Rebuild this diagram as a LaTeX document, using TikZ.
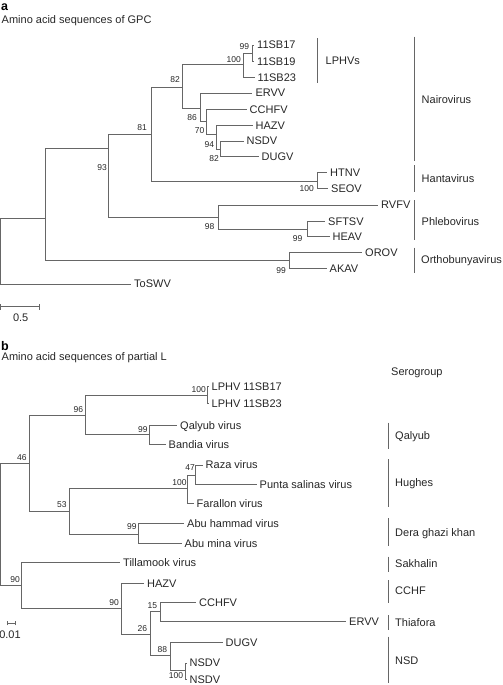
\documentclass[tikz,border=0pt]{standalone}
\usepackage{fontspec}
\setmainfont{Liberation Sans}
\usetikzlibrary{positioning}

\begin{document}
\begin{tikzpicture}[
    x=1pt, y=-1pt,
    branch/.style={draw=black!60, line width=0.6pt},
    leaf/.style={anchor=west, inner xsep=3pt, inner ysep=0pt, text height=7.9pt, text depth=0pt, text=black!85, font=\fontsize{11}{13}\selectfont},
    boot/.style={anchor=east, inner sep=0pt, text=black!85, font=\fontsize{8.5}{10}\selectfont},
    clade/.style={anchor=west, inner sep=0pt, text height=7.9pt, text depth=0pt, text=black!85, font=\fontsize{11}{13}\selectfont},
    panel/.style={anchor=base west, inner sep=0pt, font=\fontsize{12.5}{14}\selectfont\bfseries},
    heading/.style={anchor=west, inner sep=0pt, text=black!85, font=\fontsize{11}{13}\selectfont}
]
    \useasboundingbox (0,0) rectangle (503,685);

    % a: GPC
    \begin{scope}
        \node[panel] (pa) at (1,10.5) {a};
        \node[heading] (ta) at (1.5,21) {Amino acid sequences of GPC};

        \coordinate (ra) at (0.5,218);
        \coordinate (a1) at (45,218);
        \coordinate (a2) at (108.5,148);
        \coordinate (a3) at (151,134);
        \coordinate (a4) at (182.5,87);
        \coordinate (a5) at (243.5,64.3);
        \coordinate (a6) at (252,53.3);
        \coordinate (a7) at (200,108.3);
        \coordinate (a8) at (206,121.7);
        \coordinate (a9) at (216,134);
        \coordinate (a10) at (220.7,149);
        \coordinate (a11) at (317.3,181);
        \coordinate (a12) at (218,217);
        \coordinate (a13) at (307,229);
        \coordinate (a14) at (289,260.5);

        \node[leaf] (sb17) at (254,45) {11SB17};
        \node[leaf] (sb19) at (254,61.7) {11SB19};
        \node[leaf] (sb23) at (254.5,77.5) {11SB23};
        \node[leaf] (ervv) at (252.3,93) {ERVV};
        \node[leaf] (cchfv) at (246.5,109.3) {CCHFV};
        \node[leaf] (hazv) at (252.5,125.5) {HAZV};
        \node[leaf] (nsdv) at (243.5,141) {NSDV};
        \node[leaf] (dugv) at (258.5,156.7) {DUGV};
        \node[leaf] (htnv) at (327,172.7) {HTNV};
        \node[leaf] (seov) at (328,188.7) {SEOV};
        \node[leaf] (rvfv) at (378,205) {RVFV};
        \node[leaf] (sftsv) at (325,221.7) {SFTSV};
        \node[leaf] (heav) at (329.5,236.7) {HEAV};
        \node[leaf] (orov) at (362,252.5) {OROV};
        \node[leaf] (akav) at (326.5,268.5) {AKAV};
        \node[leaf] (toswv) at (131,284) {ToSWV};

        \draw[branch] (ra) |- (a1) (ra) |- (toswv.west)
            (a1) |- (a2) (a1) |- (a14)
            (a2) |- (a3) (a2) |- (a12)
            (a3) |- (a4) (a3) |- (a11)
            (a4) |- (a5) (a4) |- (a7)
            (a5) |- (a6) (a5) |- (sb23.west)
            (a6) |- (sb17.west) (a6) |- (sb19.west)
            (a7) |- (ervv.west) (a7) |- (a8)
            (a8) |- (cchfv.west) (a8) |- (a9)
            (a9) |- (hazv.west) (a9) |- (a10)
            (a10) |- (nsdv.west) (a10) |- (dugv.west)
            (a11) |- (htnv.west) (a11) |- (seov.west)
            (a12) |- (rvfv.west) (a12) |- (a13)
            (a13) |- (sftsv.west) (a13) |- (heav.west)
            (a14) |- (orov.west) (a14) |- (akav.west);

        % bootstrap values
        \node[boot] (ba2) at (107,168) {93};
        \node[boot] (ba3) at (147,127.3) {81};
        \node[boot] (ba4) at (180,80) {82};
        \node[boot] (ba5) at (241,59.3) {100};
        \node[boot] (ba6) at (249.3,46.7) {99};
        \node[boot] (ba7) at (197,117.3) {86};
        \node[boot] (ba8) at (204.5,130.7) {70};
        \node[boot] (ba9) at (214.3,145) {94};
        \node[boot] (ba10) at (219,158.3) {82};
        \node[boot] (ba11) at (314,188.7) {100};
        \node[boot] (ba12) at (214.5,226.7) {98};
        \node[boot] (ba13) at (302.5,238.3) {99};
        \node[boot] (ba14) at (286,270.7) {99};

        % genera
        \draw[branch] (317,38.3) -- (317,83.3);
        \node[clade] (lphvs) at (325.5,61) {LPHVs};
        \draw[branch] (414.7,36.7) -- (414.7,160.7);
        \node[clade] (nairo) at (421.5,100) {Nairovirus};
        \draw[branch] (414.7,165) -- (414.7,191.7);
        \node[clade] (hanta) at (421.5,179) {Hantavirus};
        \draw[branch] (414.7,200) -- (414.7,240);
        \node[clade] (phlebo) at (421.5,222) {Phlebovirus};
        \draw[branch] (414.7,247.7) -- (414.7,272.7);
        \node[clade] (ortho) at (421,260) {Orthobunyavirus};

        % scale bar
        \coordinate (sa1) at (0.5,306.7);
        \coordinate (sa2) at (39,306.7);
        \draw[branch] (sa1) -- (sa2)
            ([yshift=-3pt]sa1) -- ([yshift=3pt]sa1)
            ([yshift=-3pt]sa2) -- ([yshift=3pt]sa2);
        \node[heading, anchor=center] (la) at (20.7,317.7) {0.5};
    \end{scope}

    % b: partial L
    \begin{scope}
        \node[panel] (pb) at (1,350) {b};
        \node[heading] (tb) at (1.5,357.3) {Amino acid sequences of partial L};

        \coordinate (rb) at (0.5,463.3);
        \coordinate (b1) at (29,463.3);
        \coordinate (b2) at (85,415);
        \coordinate (b3) at (207.7,395.7);
        \coordinate (b4) at (149,434.3);
        \coordinate (b5) at (69,511);
        \coordinate (b6) at (187.7,488.3);
        \coordinate (b7) at (195.7,475);
        \coordinate (b8) at (138.3,534);
        \coordinate (b9) at (21.7,585);
        \coordinate (b10) at (121.7,608.3);
        \coordinate (b11) at (150,634.3);
        \coordinate (b12) at (160,611.7);
        \coordinate (b13) at (170,655.7);
        \coordinate (b14) at (185,670.5);

        \node[leaf] (lphva) at (208.5,386.7) {LPHV 11SB17};
        \node[leaf] (lphvb) at (208.5,403.3) {LPHV 11SB23};
        \node[leaf] (qalyub) at (177,425.7) {Qalyub virus};
        \node[leaf] (bandia) at (165.5,444.3) {Bandia virus};
        \node[leaf] (raza) at (202.5,465) {Raza virus};
        \node[leaf] (punta) at (256.5,484.3) {Punta salinas virus};
        \node[leaf] (farallon) at (193.5,503.3) {Farallon virus};
        \node[leaf] (abuh) at (184,523.3) {Abu hammad virus};
        \node[leaf] (abum) at (181.5,543.3) {Abu mina virus};
        \node[leaf] (tilla) at (120,562.7) {Tillamook virus};
        \node[leaf] (hazvb) at (144,583.3) {HAZV};
        \node[leaf] (cchfvb) at (196,602.7) {CCHFV};
        \node[leaf] (ervvb) at (346,621.7) {ERVV};
        \node[leaf] (dugvb) at (222.5,642.7) {DUGV};
        \node[leaf] (nsdva) at (186.5,663) {NSDV};
        \node[leaf] (nsdvb) at (186.5,679.5) {NSDV};

        \draw[branch] (rb) |- (b1) (rb) |- (b9)
            (b1) |- (b2) (b1) |- (b5)
            (b2) |- (b3) (b2) |- (b4)
            (b3) |- (lphva.west) (b3) |- (lphvb.west)
            (b4) |- (qalyub.west) (b4) |- (bandia.west)
            (b5) |- (b6) (b5) |- (b8)
            (b6) |- (b7) (b6) |- (farallon.west)
            (b7) |- (raza.west) (b7) |- (punta.west)
            (b8) |- (abuh.west) (b8) |- (abum.west)
            (b9) |- (tilla.west) (b9) |- (b10)
            (b10) |- (hazvb.west) (b10) |- (b11)
            (b11) |- (b12) (b11) |- (b13)
            (b12) |- (cchfvb.west) (b12) |- (ervvb.west)
            (b13) |- (dugvb.west) (b13) |- (b14)
            (b14) |- (nsdva.west) (b14) |- (nsdvb.west);

        % bootstrap values
        \node[boot] (bb1) at (26.7,457.3) {46};
        \node[boot] (bb2) at (83.3,410) {96};
        \node[boot] (bb3) at (206,389.3) {100};
        \node[boot] (bb4) at (147.7,429.3) {99};
        \node[boot] (bb5) at (66.7,505) {53};
        \node[boot] (bb6) at (186.7,482.3) {100};
        \node[boot] (bb7) at (195,467.3) {47};
        \node[boot] (bb8) at (136.7,526.7) {99};
        \node[boot] (bb9) at (20,579.3) {90};
        \node[boot] (bb10) at (119,602.7) {90};
        \node[boot] (bb11) at (147.3,628.3) {26};
        \node[boot] (bb12) at (157.3,606) {15};
        \node[boot] (bb13) at (167.3,650) {88};
        \node[boot] (bb14) at (183.3,676) {100};

        % serogroups
        \node[clade] (sero) at (391,371.7) {Serogroup};
        \draw[branch] (388.7,422.7) -- (388.7,449.3);
        \node[clade] (gqal) at (395,435.7) {Qalyub};
        \draw[branch] (388.7,459.3) -- (388.7,506.7);
        \node[clade] (ghug) at (395,482.7) {Hughes};
        \draw[branch] (388.7,518.3) -- (388.7,545.7);
        \node[clade] (gdera) at (395,532.3) {Dera ghazi khan};
        \draw[branch] (388.7,556.7) -- (388.7,571.7);
        \node[clade] (gsak) at (395,563.3) {Sakhalin};
        \draw[branch] (388.7,580) -- (388.7,603.3);
        \node[clade] (gcch) at (395,590.7) {CCHF};
        \draw[branch] (388.7,615) -- (388.7,630);
        \node[clade] (gthia) at (395,622.3) {Thiafora};
        \draw[branch] (388.7,636.7) -- (388.7,683);
        \node[clade] (gnsd) at (395,661) {NSD};

        % scale bar
        \coordinate (sb1) at (7,623.3);
        \coordinate (sb2) at (15,623.3);
        \draw[branch] (sb1) -- (sb2)
            ([yshift=-2pt]sb1) -- ([yshift=2pt]sb1)
            ([yshift=-2pt]sb2) -- ([yshift=2pt]sb2);
        \node[heading, anchor=center] (lb) at (10,635) {0.01};
    \end{scope}
\end{tikzpicture}
\end{document}
